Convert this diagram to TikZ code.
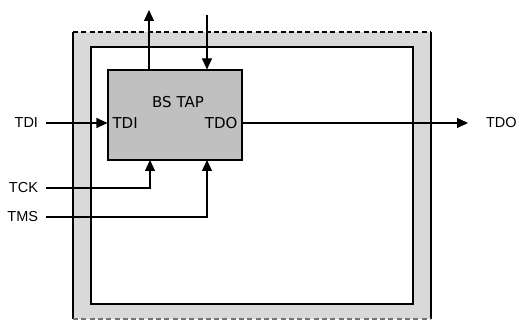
\documentclass[tikz,border=0pt]{standalone}
\usepackage{fontspec}
\setmainfont{Liberation Sans}
\newfontfamily\tapfont{DejaVu Sans}
\usetikzlibrary{arrows.meta}

\definecolor{bandgray}{HTML}{D9D9D9}
\definecolor{tapgray}{HTML}{C0C0C0}

\tikzset{
  pin/.style={
    inner sep=0pt,
    outer sep=8pt,
    font=\fontsize{14.5}{16}\selectfont
  },
  port/.style={
    inner sep=0pt,
    font=\tapfont\fontsize{15}{16}\selectfont
  },
  tap/.style={
    rectangle,
    draw,
    fill=tapgray,
    minimum width=134pt,
    minimum height=90pt,
    inner sep=0pt
  },
  sig/.style={
    line width=1.1pt,
    -{Triangle[length=11pt,width=10pt]}
  },
  edge dash/.style={
    dash pattern=on 5pt off 3.3pt
  },
}

\begin{document}
\begin{tikzpicture}[x=1pt, y=-1pt, line width=1.1pt]
  \useasboundingbox (0,0) rectangle (520,320);
  % chip outline
  \fill[bandgray] (73,32) rectangle (431,319);
  \draw (73,32) -- (73,319);
  \draw (431,32) -- (431,319);
  \draw[edge dash] (73,32) -- (431,32);
  \draw[edge dash, black!55] (73,319) -- (431,319);
  \draw[fill=white] (91,47) rectangle (413,304);

  \node[tap] (bstap) at (175,115) {};
  \node[port] (title) at (178,102) {BS TAP};
  \node[port, anchor=west] (tdiin) at (112,123) {TDI};
  \node[port, anchor=east] (tdoin) at (238,123) {TDO};

  \node[pin, anchor=east] (tdi) at (46,123) {TDI};
  \node[pin, anchor=east] (tck) at (46,188) {TCK};
  \node[pin, anchor=east] (tms) at (46,217) {TMS};
  \node[pin, anchor=west] (tdo) at (478,123) {TDO};

  \coordinate (up) at (149,10);
  \coordinate (down) at (207,15);
  \coordinate (ckport) at (150,160);
  \coordinate (msport) at (207,160);

  \draw[sig] (tdi.east) -- (bstap.west |- tdi);
  \draw[sig] (bstap.east |- tdo) -- ([xshift=-10pt]tdo.west);
  \draw[sig] (tck.east) -| (ckport);
  \draw[sig] (tms.east) -| (msport);
  \draw[sig] (bstap.north -| up) -- (up);
  \draw[sig] (down) -- (bstap.north -| down);
\end{tikzpicture}
\end{document}
